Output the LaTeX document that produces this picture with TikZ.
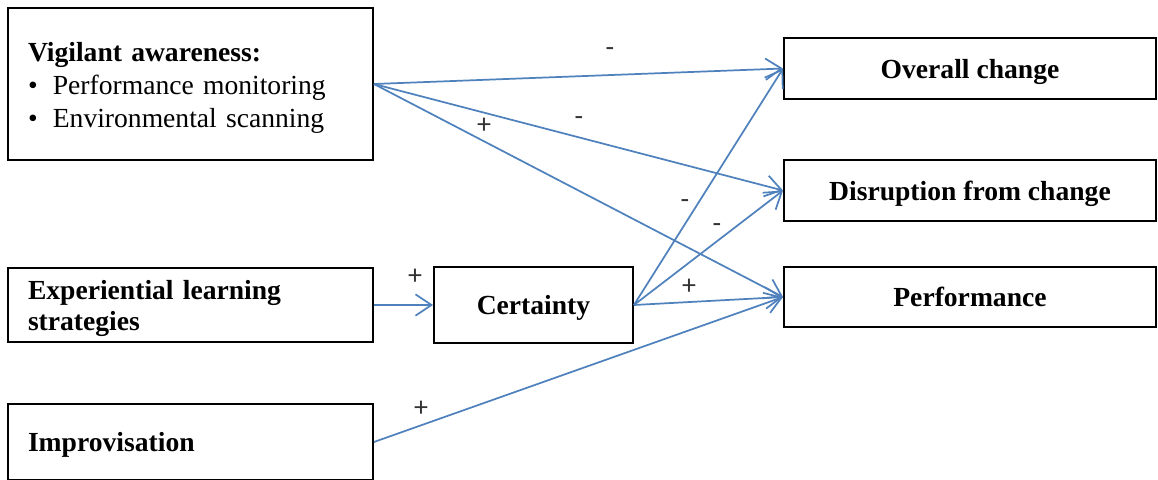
\documentclass[tikz,border=0pt]{standalone}
\usepackage{fontspec}
\setmainfont{Liberation Serif}
\newfontfamily\signfont{Carlito}
\usetikzlibrary{arrows.meta}
\definecolor{linkblue}{RGB}{79,129,189}
\tikzset{
	box/.style={draw=black, line width=1.4pt, inner sep=0pt, font=\fontsize{20.7}{24.75}\selectfont},
	onebox/.style={box, text depth=0pt},
	leftbox/.style={box, text width=243.75pt, inner xsep=15pt, minimum width=273.75pt, align=left},
	link/.style={draw=linkblue, line width=1.3pt, -{Straight Barb[length=12pt,width=16pt,line width=1.3pt]}},
	sign/.style={font=\signfont\fontsize{21}{24}\selectfont, text=black!80}
}
\begin{document}
\begin{tikzpicture}[x=0.75pt,y=-0.75pt]

	% page
	\useasboundingbox (0,0) rectangle (1158,479);
	\clip (0,0) rectangle (1158,479);

	% left boxes
	\node[leftbox, minimum height=114pt] (va) at (190.5,84) {\rule{0pt}{20pt}\textbf{Vigilant awareness:}\\
		•\hspace{0.55em}Performance monitoring\\
		•\hspace{0.55em}Environmental scanning};
	\node[leftbox, minimum height=55.5pt, font=\fontsize{20.7}{23.25}\selectfont] (el) at (190.5,305) {\rule{0pt}{20pt}\textbf{Experiential learning strategies}};
	\node[leftbox, onebox, minimum height=57pt] (im) at (190.5,442) {\textbf{Improvisation}};

	% middle box
	\node[onebox, minimum width=149.25pt, minimum height=57pt] (ce) at (533.5,305) {\textbf{Certainty}};

	% right boxes
	\node[onebox, minimum width=279pt, minimum height=45.75pt] (oc) at (970,68.5) {\textbf{Overall change}};
	\node[onebox, minimum width=279pt, minimum height=45.75pt] (dc) at (970,190.5) {\textbf{Disruption from change}};
	\node[onebox, minimum width=279pt, minimum height=45pt] (pf) at (970,297) {\textbf{Performance}};

	% arrows
	\draw[link] (va.east) -- (oc.west);
	\draw[link] (va.east) -- (dc.west);
	\draw[link] (va.east) -- (pf.west);
	\draw[link] (el.east) -- (ce.west);
	\draw[link] (ce.east) -- (oc.west);
	\draw[link] (ce.east) -- (dc.west);
	\draw[link] (ce.east) -- (pf.west);
	\draw[link] (im.east) -- (pf.west);

	% signs
	\node[sign] (s1) at (610,52) {-};
	\node[sign] (s2) at (484,126) {+};
	\node[sign] (s3) at (579,121) {-};
	\node[sign] (s4) at (685,204) {-};
	\node[sign] (s5) at (717,228) {-};
	\node[sign] (s6) at (689,287) {+};
	\node[sign] (s7) at (415,277) {+};
	\node[sign] (s8) at (421,409) {+};

\end{tikzpicture}
\end{document}
